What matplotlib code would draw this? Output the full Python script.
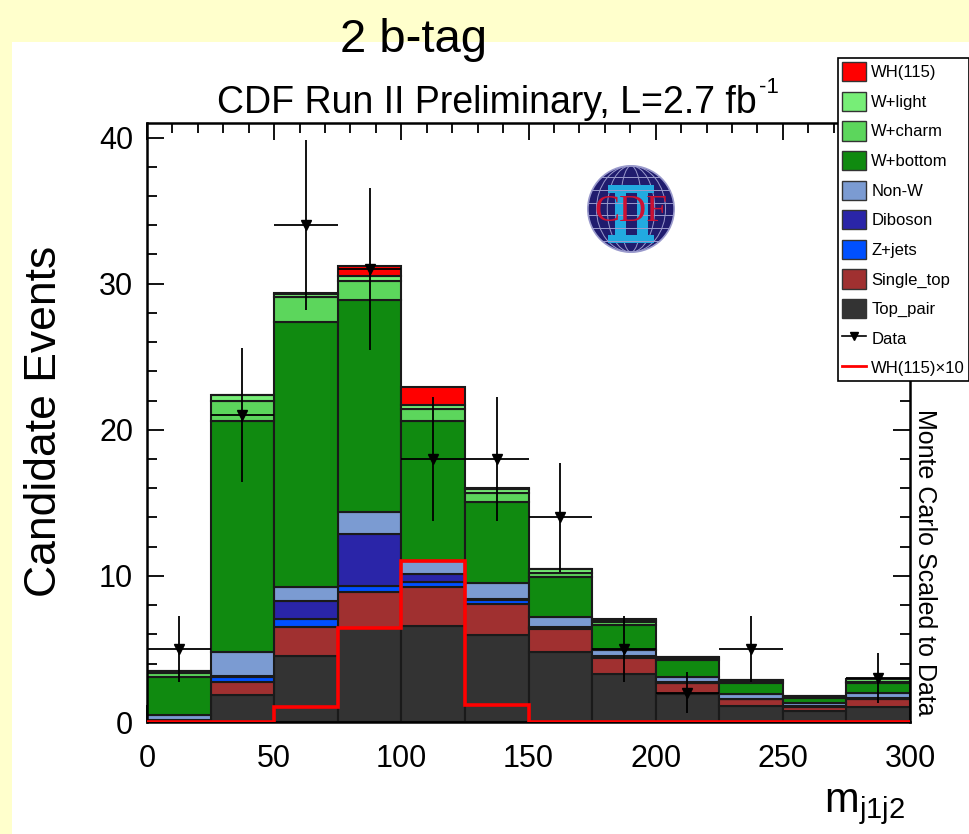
import numpy as np
import matplotlib
matplotlib.use('Agg')
import matplotlib.pyplot as plt
from matplotlib.patches import Patch, Rectangle, Circle, Ellipse
from matplotlib.lines import Line2D
from matplotlib.ticker import MultipleLocator

plt.rcParams['font.family'] = ['Liberation Sans', 'DejaVu Sans']
plt.rcParams['mathtext.default'] = 'regular'

# m_j1j2 binning, 25 GeV bins
edges = np.arange(0, 325, 25)

# background expectations per bin (stacked bottom to top)
top_pair   = [0.05, 1.85, 4.52, 6.40, 6.60, 5.96, 4.82, 3.29, 1.92, 1.12, 0.78, 1.05]
single_top = [0.03, 0.91, 1.96, 2.53, 2.67, 2.12, 1.53, 1.11, 0.73, 0.43, 0.27, 0.53]
z_jets     = [0.02, 0.29, 0.55, 0.37, 0.30, 0.28, 0.10, 0.05, 0.05, 0.02, 0.01, 0.02]
diboson    = [0.02, 0.10, 1.27, 3.58, 0.57, 0.09, 0.05, 0.05, 0.02, 0.01, 0.01, 0.02]
non_w      = [0.33, 1.67, 0.92, 1.46, 0.86, 1.05, 0.72, 0.43, 0.38, 0.34, 0.21, 0.38]
w_bottom   = [2.65, 15.75, 18.16, 14.52, 9.57, 5.55, 2.69, 1.71, 1.15, 0.73, 0.34, 0.65]
w_charm    = [0.23, 1.43, 1.72, 1.30, 0.83, 0.61, 0.31, 0.19, 0.10, 0.13, 0.08, 0.10]
w_light    = [0.17, 0.35, 0.20, 0.34, 0.30, 0.30, 0.23, 0.16, 0.08, 0.10, 0.08, 0.17]
wh115      = [0.00, 0.05, 0.05, 0.70, 1.20, 0.09, 0.05, 0.03, 0.02, 0.02, 0.02, 0.03]

wh115_x10  = [0, 0, 1.05, 6.4, 11.0, 1.16, 0, 0, 0, 0, 0, 0]
data       = [5, 21, 34, 31, 18, 18, 14, 5, 2, 5, 0, 3]

stack = [
    ('Top_pair', top_pair, '#333333'),
    ('Single_top', single_top, '#a03030'),
    ('Z+jets', z_jets, '#0050ff'),
    ('Diboson', diboson, '#2a25a8'),
    ('Non-W', non_w, '#7b9bd2'),
    ('W+bottom', w_bottom, '#108a10'),
    ('W+charm', w_charm, '#5cd65c'),
    ('W+light', w_light, '#77ee77'),
    ('WH(115)', wh115, '#ff0000'),
]

W, H = 969, 834
fig = plt.figure(figsize=(W / 100, H / 100), dpi=100, facecolor='#ffffcc')
fig.patches.append(Rectangle((12 / W, 0), 1, 1 - 42 / H, transform=fig.transFigure,
                             facecolor='white', edgecolor='none', zorder=-5))

ax = fig.add_axes([147 / W, 1 - 722 / H, (910 - 147) / W, (722 - 123) / H])

bottom = np.zeros(len(edges) - 1)
for name, vals, col in stack:
    vals = np.array(vals)
    ax.bar(edges[:-1], vals, width=25, bottom=bottom, align='edge', color=col,
           edgecolor='#1a1a1a', linewidth=1.5, zorder=2)
    bottom += vals

ax.stairs(wh115_x10, edges, color='red', lw=2.6, zorder=3)

centers = edges[:-1] + 12.5
d = np.array(data, float)
m = d > 0
ax.errorbar(centers[m], d[m], xerr=12.5, yerr=np.sqrt(d[m]), fmt='v', color='black',
            ms=7, elinewidth=1.3, capsize=0, zorder=4)

ax.set_xlim(0, 300)
ax.set_ylim(0, 41)
ax.xaxis.set_major_locator(MultipleLocator(50))
ax.xaxis.set_minor_locator(MultipleLocator(10))
ax.yaxis.set_major_locator(MultipleLocator(10))
ax.yaxis.set_minor_locator(MultipleLocator(2))
ax.tick_params(which='both', direction='in', top=True, right=True, width=1.3, labelsize=22)
ax.tick_params(which='major', length=12)
ax.tick_params(which='minor', length=7)
ax.tick_params(axis='x', pad=16)
ax.tick_params(axis='y', pad=10)
for s in ax.spines.values():
    s.set_linewidth(1.8)

fig.text(757 / W, 1 - 113 / H, 'CDF Run II Preliminary, L=2.7 fb',
         fontsize=27, ha='right', va='baseline')
fig.text(759 / W, 1 - 93 / H, '-1', fontsize=16, ha='left', va='baseline')
fig.text(413 / W, 1 - 52 / H, '2 b-tag', fontsize=34, ha='center', va='baseline')
fig.text(45 / W, 1 - 421 / H, 'Candidate Events', fontsize=32, rotation=90,
         ha='center', va='center')
fig.text(905 / W, 1 - 812 / H, 'm$_{j1j2}$', fontsize=30, ha='right', va='baseline')
fig.text(925 / W, 1 - 562 / H, 'Monte Carlo Scaled to Data', fontsize=18,
         rotation=-90, ha='center', va='center')

# legend
handles = [Patch(facecolor=col, edgecolor='#333333', linewidth=1) for _, _, col in stack[::-1]]
labels = [name for name, _, _ in stack[::-1]]
handles += [Line2D([], [], color='black', marker='v', ms=6, lw=1.2),
            Line2D([], [], color='red', lw=2)]
labels += ['Data', 'WH(115)×10']
leg = fig.legend(handles, labels, loc='upper left', bbox_to_anchor=(838 / W, 1 - 58 / H),
                 bbox_transform=fig.transFigure, frameon=True, fancybox=False,
                 edgecolor='black', framealpha=1, fontsize=12, handlelength=1.45,
                 handleheight=1.4, handletextpad=0.3, labelspacing=0.62,
                 borderpad=0.25, borderaxespad=0)
leg.get_frame().set_linewidth(1.2)

# CDF logo
lx = fig.add_axes([587 / W, 1 - 253 / H, 88 / W, 88 / H])
lx.set_xlim(-1.02, 1.02)
lx.set_ylim(-1.02, 1.02)
lx.set_aspect('equal')
lx.axis('off')
disk = Circle((0, 0), 1, facecolor='#201c6e', edgecolor='#9a9acc', lw=1.2)
lx.add_patch(disk)
for yy in [-0.75, -0.45, -0.15, 0.15, 0.45, 0.75]:
    ln, = lx.plot([-1, 1], [yy, yy], color='#9a9acc', lw=0.7)
    ln.set_clip_path(disk)
for w_ in [0.5, 1.1, 1.6]:
    e = Ellipse((0, 0), w_, 2, facecolor='none', edgecolor='#9a9acc', lw=0.7)
    lx.add_patch(e)
cyan = '#22aae0'
for (x0, y0, w_, h_) in [(-0.54, 0.38, 1.08, 0.17), (-0.54, -0.78, 1.08, 0.17),
                         (-0.38, -0.62, 0.26, 1.0), (0.14, -0.62, 0.26, 1.0)]:
    lx.add_patch(Rectangle((x0, y0), w_, h_, facecolor=cyan, edgecolor='none'))
lx.text(0, -0.06, 'CDF', family=['Liberation Serif', 'DejaVu Serif'], color='#cc1133',
        fontsize=27, ha='center', va='center')

fig.savefig('out.png', dpi=100, facecolor=fig.get_facecolor())
